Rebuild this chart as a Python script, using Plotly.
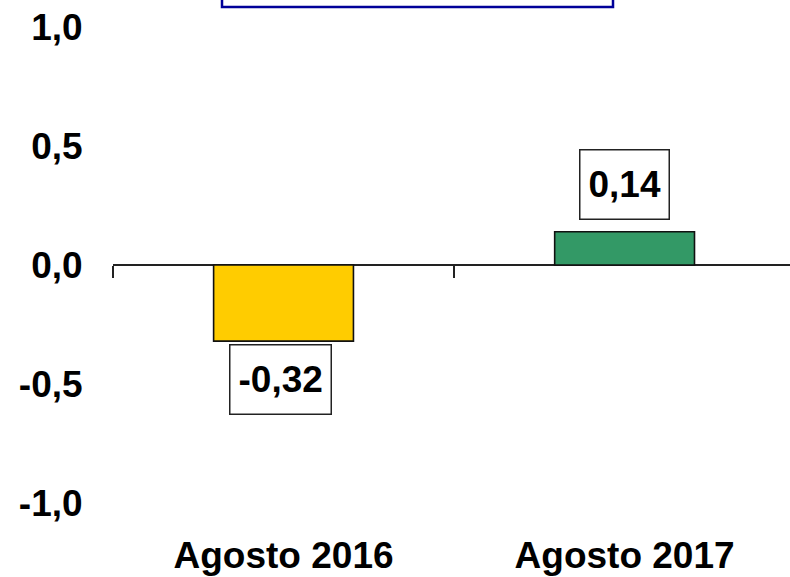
import plotly.graph_objects as go

categories = ["Agosto 2016", "Agosto 2017"]
values = [-0.32, 0.14]
bar_colors = ["#FFCC00", "#339966"]
y_ticks = [1.0, 0.5, 0.0, -0.5, -1.0]
y_tick_labels = ["1,0", "0,5", "0,0", "-0,5", "-1,0"]

FONT = "Liberation Sans, Arial, sans-serif"

fig = go.Figure()
fig.add_trace(go.Bar(
    x=categories, y=values, width=0.41,
    marker=dict(color=bar_colors, line=dict(color="#111111", width=1.6)),
    showlegend=False, hoverinfo="skip",
))
# helper trace so the zero-axis tick axis renders
fig.add_trace(go.Scatter(x=[None], y=[None], xaxis="x2", yaxis="y",
                         showlegend=False, hoverinfo="skip"))

for i, v in enumerate(values):
    txt = f"{v:.2f}".replace(".", ",")
    pos = v >= 0
    fig.add_annotation(x=i, y=v, xref="x", yref="y", text=f"<b>{txt}</b>",
                       showarrow=False,
                       yanchor="bottom" if pos else "top",
                       yshift=12 if pos else -3,
                       xshift=0 if pos else -3,
                       height=52,
                       font=dict(family=FONT, size=37, color="black", weight="bold"),
                       bgcolor="white", bordercolor="#222222", borderwidth=1.5,
                       borderpad=8)

# title box outline (cut off at top)
fig.add_shape(type="rect", xref="paper", yref="paper",
              x0=(222 - 113) / 677, x1=(613 - 113) / 677, y0=(503 - 7) / 476, y1=1.3,
              line=dict(color="#000099", width=2.5), fillcolor="rgba(0,0,0,0)")

fig.update_layout(
    width=790, height=577,
    margin=dict(l=113, r=0, t=27, b=74, autoexpand=False),
    paper_bgcolor="white", plot_bgcolor="white",
    separators=",.",
    font=dict(family=FONT, size=37, color="black"),
    xaxis=dict(type="category", range=[-0.5, 1.485], showline=False,
               showgrid=False, zeroline=False, automargin=False,
               ticks="outside", ticklen=20, tickcolor="rgba(0,0,0,0)",
               tickfont=dict(family=FONT, size=37, color="black", weight="bold")),
    xaxis2=dict(overlaying="x", anchor="free", position=0.5, range=[-0.5, 1.485],
                tickvals=[-0.5, 0.5, 1.5], showticklabels=False, automargin=False,
                ticks="outside", ticklen=12, tickwidth=1.5, tickcolor="#222222",
                showline=False, showgrid=False, zeroline=False),
    yaxis=dict(range=[-1.0, 1.0], tickvals=y_ticks, ticktext=y_tick_labels,
               showgrid=False, showline=False, automargin=False,
               ticklabeloverflow="allow",
               zeroline=True, zerolinecolor="#222222", zerolinewidth=1.5,
               ticks="outside", ticklen=22, tickcolor="rgba(0,0,0,0)",
               tickfont=dict(family=FONT, size=37, color="black", weight="bold")),
)

fig.write_html("out.html", config={"displayModeBar": False},
               post_script="document.body.style.margin='0px';")
